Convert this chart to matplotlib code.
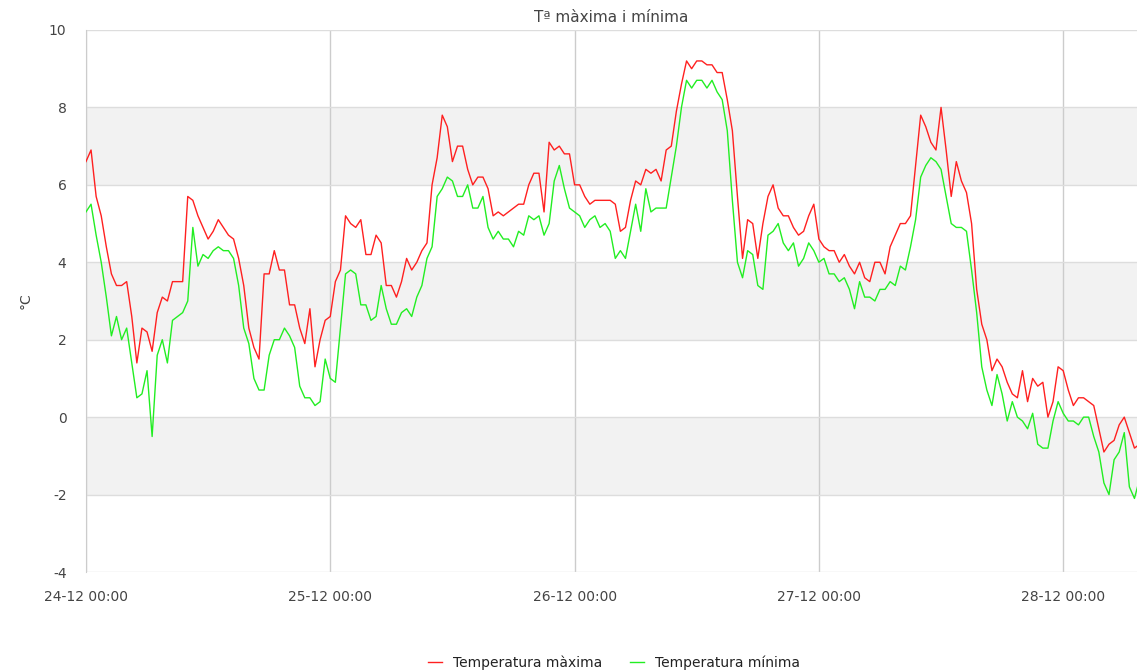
import numpy as np
import pandas as pd
import matplotlib
matplotlib.use('Agg')
import matplotlib.pyplot as plt
import matplotlib.dates as mdates

# temperatures every 30 minutes from 24-12 00:00
t_max = [6.6, 6.9, 5.7, 5.2, 4.4, 3.7, 3.4, 3.4, 3.5, 2.6, 1.4, 2.3, 2.2, 1.7, 2.7, 3.1, 3.0, 3.5, 3.5, 3.5,
         5.7, 5.6, 5.2, 4.9, 4.6, 4.8, 5.1, 4.9, 4.7, 4.6, 4.1, 3.4, 2.3, 1.8, 1.5,
         3.7, 3.7, 4.3, 3.8, 3.8, 2.9, 2.9, 2.3, 1.9, 2.8, 1.3, 2.0, 2.5, 2.6, 3.5, 3.8, 5.2, 5.0, 4.9, 5.1,
         4.2, 4.2, 4.7, 4.5, 3.4, 3.4, 3.1, 3.5, 4.1, 3.8, 4.0, 4.3, 4.5,
         6.0, 6.7, 7.8, 7.5, 6.6, 7.0, 7.0, 6.4, 6.0, 6.2, 6.2, 5.9, 5.2, 5.3, 5.2, 5.3, 5.4, 5.5, 5.5, 6.0,
         6.3, 6.3, 5.3, 7.1, 6.9, 7.0, 6.8, 6.8, 6.0, 6.0, 5.7, 5.5, 5.6, 5.6, 5.6, 5.6,
         5.5, 4.8, 4.9, 5.6, 6.1, 6.0, 6.4, 6.3, 6.4, 6.1, 6.9, 7.0, 7.9, 8.6, 9.2, 9.0, 9.2, 9.2, 9.1, 9.1,
         8.9, 8.9, 8.2, 7.4, 5.7, 4.1, 5.1, 5.0, 4.1, 5.0, 5.7, 6.0, 5.4, 5.2,
         5.2, 4.9, 4.7, 4.8, 5.2, 5.5, 4.6, 4.4, 4.3, 4.3, 4.0, 4.2, 3.9, 3.7, 4.0, 3.6, 3.5, 4.0, 4.0, 3.7,
         4.4, 4.7, 5.0, 5.0, 5.2, 6.5, 7.8, 7.5, 7.1, 6.9, 8.0, 6.9, 5.7, 6.6,
         6.1, 5.8, 5.0, 3.3, 2.4, 2.0, 1.2, 1.5, 1.3, 0.9, 0.6, 0.5, 1.2, 0.4, 1.0, 0.8, 0.9, 0.0, 0.4, 1.3,
         1.2, 0.7, 0.3, 0.5, 0.5, 0.4, 0.3, -0.3, -0.9, -0.7, -0.6, -0.2, 0.0, -0.4, -0.8, -0.7]

t_min = [5.3, 5.5, 4.7, 4.0, 3.1, 2.1, 2.6, 2.0, 2.3, 1.4, 0.5, 0.6, 1.2, -0.5, 1.6, 2.0, 1.4, 2.5, 2.6, 2.7,
         3.0, 4.9, 3.9, 4.2, 4.1, 4.3, 4.4, 4.3, 4.3, 4.1, 3.4, 2.3, 1.9, 1.0, 0.7,
         0.7, 1.6, 2.0, 2.0, 2.3, 2.1, 1.8, 0.8, 0.5, 0.5, 0.3, 0.4, 1.5, 1.0, 0.9, 2.3, 3.7, 3.8, 3.7, 2.9,
         2.9, 2.5, 2.6, 3.4, 2.8, 2.4, 2.4, 2.7, 2.8, 2.6, 3.1, 3.4, 4.1,
         4.4, 5.7, 5.9, 6.2, 6.1, 5.7, 5.7, 6.0, 5.4, 5.4, 5.7, 4.9, 4.6, 4.8, 4.6, 4.6, 4.4, 4.8, 4.7, 5.2,
         5.1, 5.2, 4.7, 5.0, 6.1, 6.5, 5.9, 5.4, 5.3, 5.2, 4.9, 5.1, 5.2, 4.9, 5.0, 4.8,
         4.1, 4.3, 4.1, 4.8, 5.5, 4.8, 5.9, 5.3, 5.4, 5.4, 5.4, 6.2, 7.0, 8.0, 8.7, 8.5, 8.7, 8.7, 8.5, 8.7,
         8.4, 8.2, 7.4, 5.6, 4.0, 3.6, 4.3, 4.2, 3.4, 3.3, 4.7, 4.8, 5.0, 4.5,
         4.3, 4.5, 3.9, 4.1, 4.5, 4.3, 4.0, 4.1, 3.7, 3.7, 3.5, 3.6, 3.3, 2.8, 3.5, 3.1, 3.1, 3.0, 3.3, 3.3,
         3.5, 3.4, 3.9, 3.8, 4.4, 5.1, 6.2, 6.5, 6.7, 6.6, 6.4, 5.7, 5.0, 4.9,
         4.9, 4.8, 3.8, 2.7, 1.3, 0.7, 0.3, 1.1, 0.6, -0.1, 0.4, 0.0, -0.1, -0.3, 0.1, -0.7, -0.8, -0.8, -0.1, 0.4,
         0.1, -0.1, -0.1, -0.2, 0.0, 0.0, -0.5, -0.9, -1.7, -2.0, -1.1, -0.9, -0.4, -1.8, -2.1, -1.6]

times = pd.date_range('2023-12-24 00:00', periods=len(t_max), freq='30min')
day_ticks = pd.date_range('2023-12-24', '2023-12-28', freq='D')
y_ticks = np.arange(-4, 11, 2)

plt.rcParams['font.family'] = 'DejaVu Sans'
plt.rcParams['axes.unicode_minus'] = False

fig = plt.figure(figsize=(11.37, 6.72), dpi=100)
ax = fig.add_axes([0.0756, 0.1488, 0.9244, 0.8066])

# grey bands between every other grid line
for lo in [-2, 2, 6]:
    ax.axhspan(lo, lo + 2, color='#f2f2f2', zorder=0, lw=0)

ax.plot(times, t_max, color='#ff2020', lw=1.0, label='Temperatura màxima', zorder=3)
ax.plot(times, t_min, color='#22ee22', lw=1.0, label='Temperatura mínima', zorder=3)

x_end = times[0] + pd.Timedelta(minutes=30) * 206.5
ax.set_xlim(times[0], x_end)
ax.set_ylim(-4, 10)

ax.set_yticks(y_ticks)
ax.set_xticks(day_ticks)
ax.xaxis.set_major_formatter(mdates.DateFormatter('%d-%m %H:%M'))
ax.yaxis.grid(True, color='#dddddd', lw=1.0)
ax.xaxis.grid(True, color='#cccccc', lw=1.0)
ax.set_axisbelow(True)

for s in ['top', 'right', 'bottom']:
    ax.spines[s].set_visible(False)
ax.spines['left'].set_color('#cccccc')

ax.tick_params(axis='both', length=0, labelsize=10, colors='#444444')
ax.tick_params(axis='x', pad=13)
ax.tick_params(axis='y', pad=14)
ax.set_ylabel('°C', fontsize=10, color='#444444', labelpad=12)
ax.set_title('Tª màxima i mínima', fontsize=11, color='#444444', pad=6)

fig.legend(loc='lower center', ncol=2, frameon=False, fontsize=10, handlelength=1.0,
           columnspacing=2.0, bbox_to_anchor=(0.54, -0.015), labelcolor='#222222')

fig.savefig('out.png', dpi=100)
